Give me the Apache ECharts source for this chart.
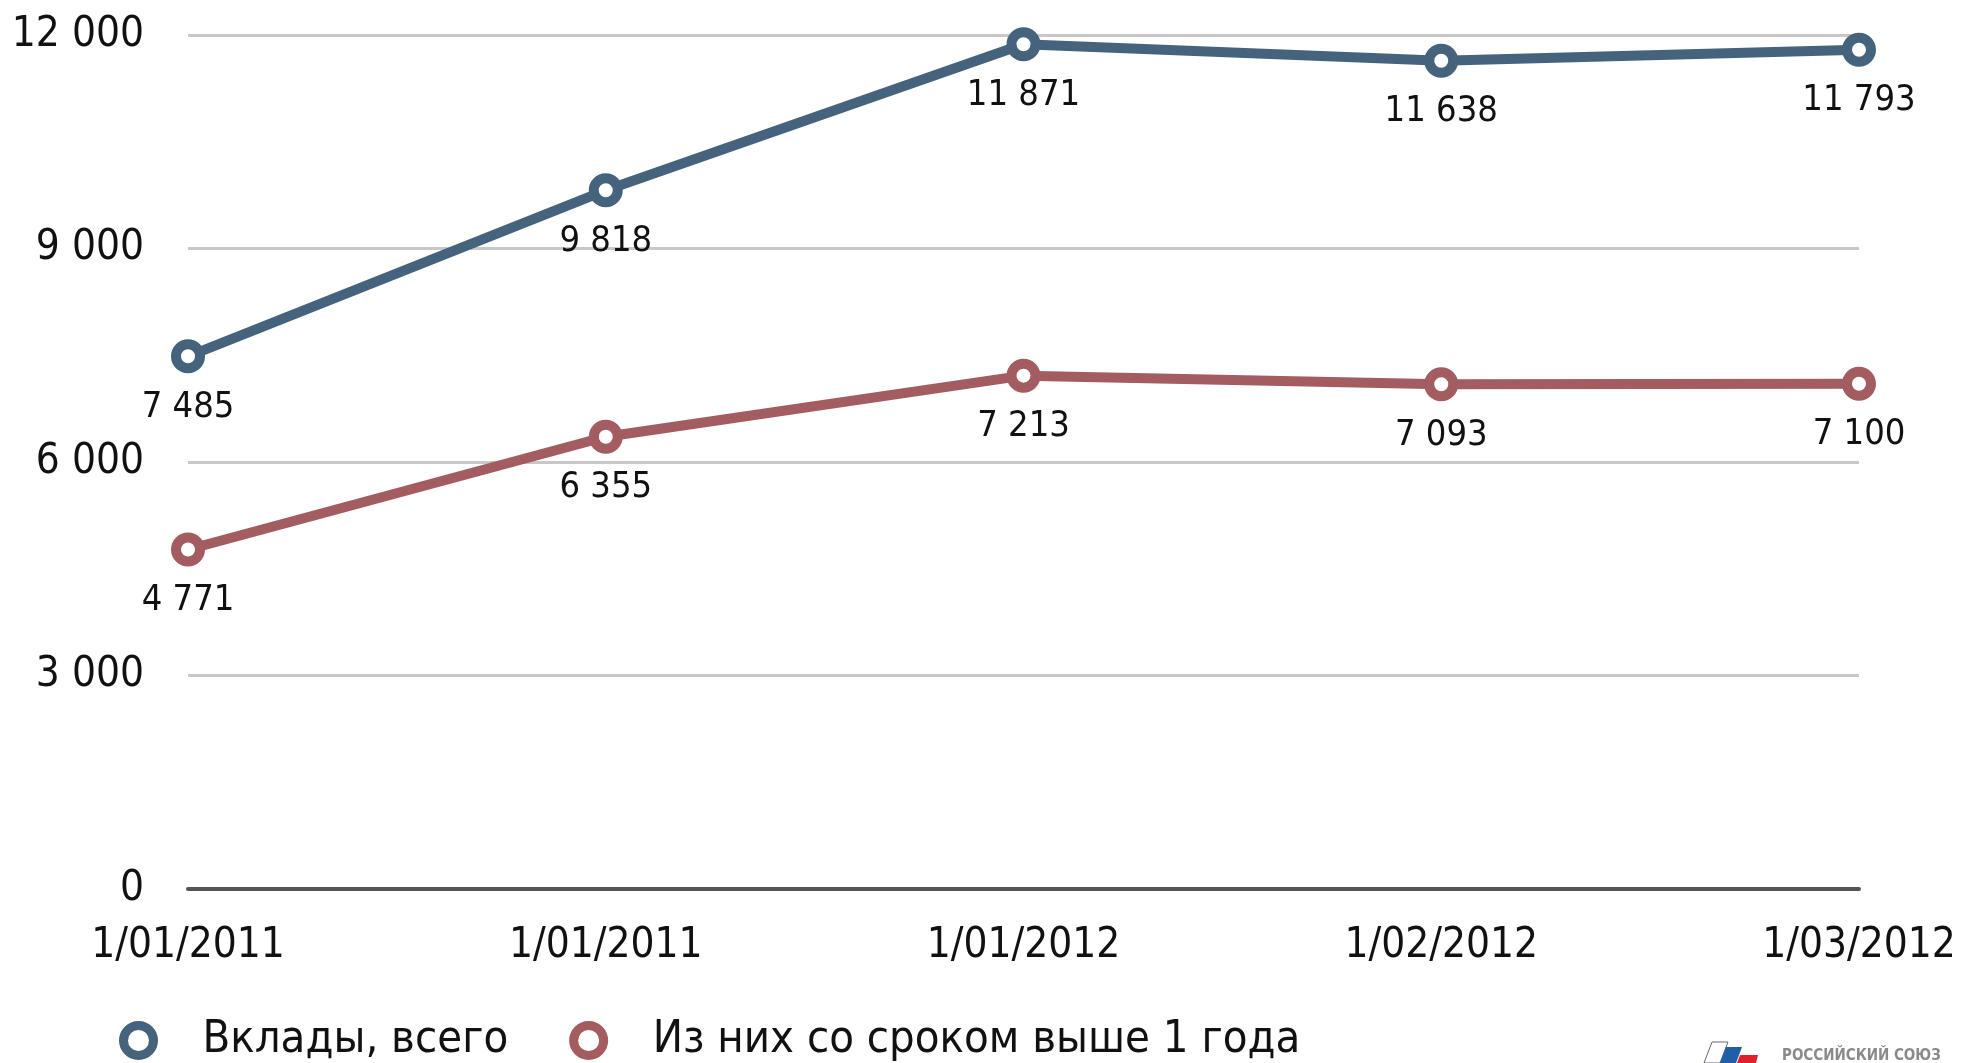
<!DOCTYPE html>
<html>
<head>
<meta charset="utf-8">
<script src="https://cdn.jsdelivr.net/npm/echarts@6/dist/echarts.min.js"></script>
<style>
  html, body { margin: 0; padding: 0; background: #fff; }
  #chart { width: 1963px; height: 1063px; }
</style>
</head>
<body>
<div id="chart"></div>
<script>
  // даты (первые две подписи в оригинале совпадают)
  var categories = ["1/01/2011", "1/01/2011", "1/01/2012", "1/02/2012", "1/03/2012"];
  var depositsTotal = [7485, 9818, 11871, 11638, 11793];
  var depositsLong = [4771, 6355, 7213, 7093, 7100];
  var seriesNames = ["Вклады, всего", "Из них со сроком выше 1 года"];
  var yTicks = { min: 0, max: 12000, interval: 3000 };

  var fontFamily = '"Liberation Sans Narrow", "DejaVu Sans Condensed", sans-serif';
  var blue = "#46637d";
  var red = "#a35c60";

  // 12000 -> "12 000"
  function fmt(v) {
    return String(v).replace(/\B(?=(\d{3})+(?!\d))/g, " ");
  }

  function lineSeries(name, data, color) {
    return {
      name: name,
      type: "line",
      data: data,
      symbol: "circle",
      symbolSize: 24,
      lineStyle: { color: color, width: 10 },
      itemStyle: { color: "#fff", borderColor: color, borderWidth: 10 },
      label: {
        show: true,
        position: "bottom",
        distance: 16,
        color: "#111",
        fontFamily: fontFamily,
        fontSize: 36,
        formatter: function (p) { return fmt(p.value); }
      },
      emphasis: { disabled: true },
      animation: false
    };
  }

  var chart = echarts.init(document.getElementById("chart"));
  chart.setOption({
    backgroundColor: "#fff",
    grid: { left: 188, right: 104, top: 35, bottom: 174, containLabel: false },
    legend: {
      left: 114,
      top: 1013,
      itemGap: 61,
      itemWidth: 30,
      itemHeight: 30,
      icon: "circle",
      itemStyle: { color: "#fff", borderWidth: 9 },
      textStyle: { color: "#111", fontFamily: fontFamily, fontSize: 45, padding: [0, 0, 0, 44] },
      data: seriesNames
    },
    xAxis: {
      type: "category",
      data: categories,
      boundaryGap: false,
      axisLine: { lineStyle: { color: "#555", width: 4 } },
      axisTick: { show: false },
      axisLabel: {
        color: "#111",
        fontFamily: fontFamily,
        fontSize: 42,
        margin: 36,
        interval: 0
      },
      splitLine: { show: false }
    },
    yAxis: {
      type: "value",
      min: yTicks.min,
      max: yTicks.max,
      interval: yTicks.interval,
      axisLine: { show: false },
      axisTick: { show: false },
      axisLabel: {
        color: "#111",
        fontFamily: fontFamily,
        fontSize: 42,
        margin: 44,
        formatter: fmt
      },
      splitLine: { lineStyle: { color: "#c8c8c8", width: 3 } }
    },
    // логотип в правом нижнем углу (обрезан краем)
    graphic: [
      { type: "polygon", shape: { points: [[1712, 1042], [1728, 1042], [1720, 1063], [1704, 1063]] },
        style: { fill: "#fff", stroke: "#667", lineWidth: 1 } },
      { type: "polygon", shape: { points: [[1726, 1047], [1742, 1047], [1736, 1063], [1720, 1063]] },
        style: { fill: "#1f5fa8" } },
      { type: "polygon", shape: { points: [[1740, 1055], [1758, 1055], [1756, 1063], [1737, 1063]] },
        style: { fill: "#e0202a" } },
      { type: "text", left: 1782, top: 1049,
        style: { text: "РОССИЙСКИЙ СОЮЗ", fill: "#8a8a8a", font: "bold 15px " + fontFamily } }
    ],
    series: [
      lineSeries(seriesNames[0], depositsTotal, blue),
      lineSeries(seriesNames[1], depositsLong, red)
    ]
  });

  window.addEventListener("resize", function () { chart.resize(); });
</script>
</body>
</html>
